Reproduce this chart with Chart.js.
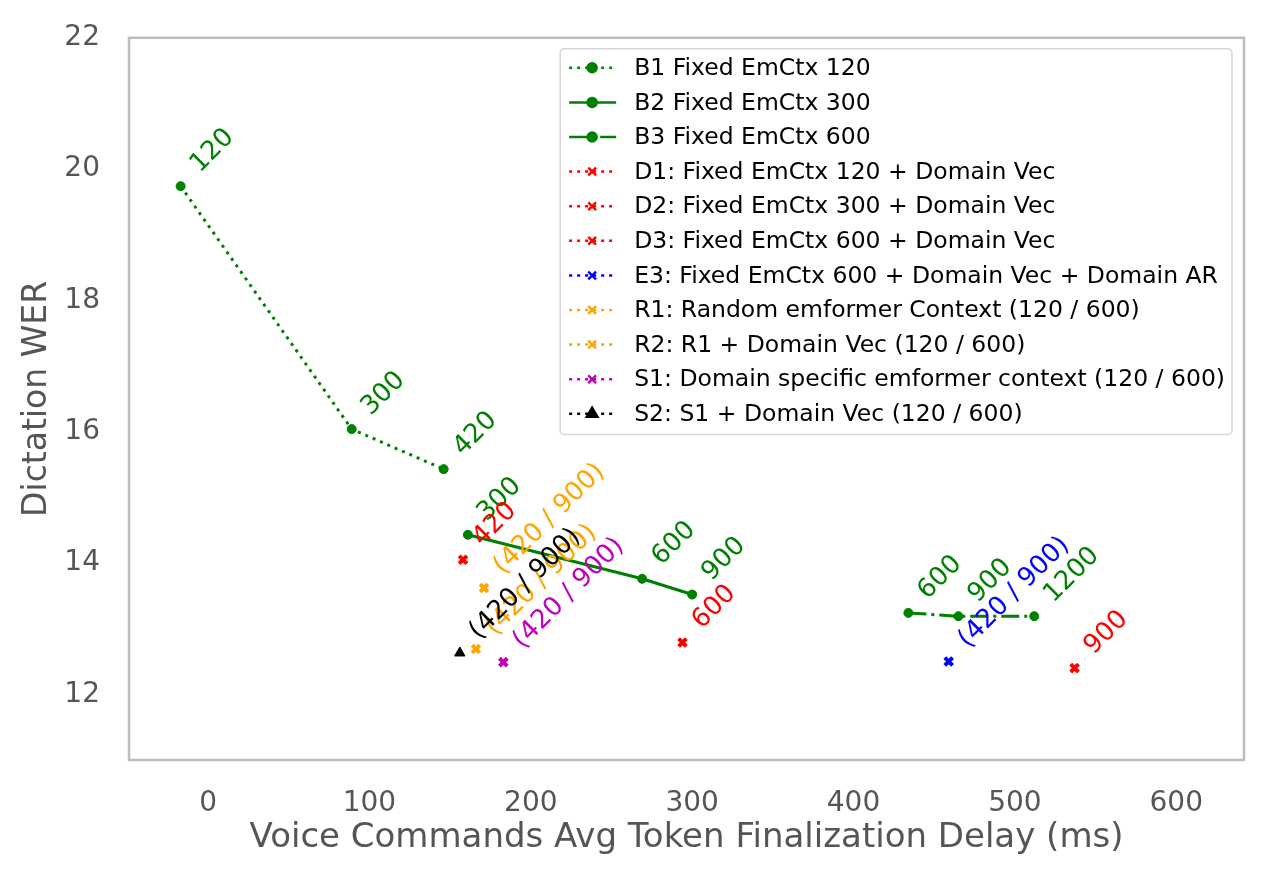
<!DOCTYPE html>
<html>
<head>
<meta charset="utf-8">
<script src="https://cdn.jsdelivr.net/npm/chart.js@4.4.1/dist/chart.umd.min.js"></script>
<style>
  html, body { margin: 0; padding: 0; background: #fff; }
</style>
</head>
<body>
<canvas id="myChart" width="1268" height="879"></canvas>
<script>
// values
var b1X = [-17, 89, 146];   var b1Y = [19.74, 16.04, 15.43];
var b2X = [161, 269, 300];  var b2Y = [14.43, 13.76, 13.52];
var b3X = [434, 465, 512];  var b3Y = [13.24, 13.19, 13.19];
var d1X = [158]; var d1Y = [14.05];
var d2X = [294]; var d2Y = [12.79];
var d3X = [537]; var d3Y = [12.40];
var e3X = [459]; var e3Y = [12.50];
var r1X = [171]; var r1Y = [13.62];
var r2X = [166]; var r2Y = [12.69];
var s1X = [183]; var s1Y = [12.49];
var s2X = [156]; var s2Y = [12.63];

var b1Labels = ['120', '300', '420'];
var b2Labels = ['300', '600', '900'];
var b3Labels = ['600', '900', '1200'];
var d1Labels = ['420'];
var d2Labels = ['600'];
var d3Labels = ['900'];
var pairLabels = ['(420 / 900)'];

var xTicks = [0, 100, 200, 300, 400, 500, 600];
var yTicks = [12, 14, 16, 18, 20, 22];

function pts(xs, ys) {
    return xs.map(function (x, i) { return {x: x, y: ys[i]}; });
}

function series(label, xs, ys, color, dash, style, notes) {
    return {
        label: label,
        data: pts(xs, ys),
        borderColor: color,
        backgroundColor: color,
        borderWidth: 3,
        borderDash: dash,
        pointStyle: style,
        pointRadius: style === 'circle' ? 4.5 : (style === 'triangle' ? 6 : 5.5),
        pointBorderWidth: style === 'crossRot' ? 4 : 1,
        pointHoverRadius: 5,
        showLine: true,
        tension: 0,
        notes: notes
    };
}

var dotted = [3, 5];
var datasets = [
    series('B1 Fixed EmCtx 120', b1X, b1Y, 'green', dotted, 'circle', b1Labels),
    series('B2 Fixed EmCtx 300', b2X, b2Y, 'green', [], 'circle', b2Labels),
    series('B3 Fixed EmCtx 600', b3X, b3Y, 'green', [18, 5, 3, 5], 'circle', b3Labels),
    series('D1: Fixed EmCtx 120 + Domain Vec', d1X, d1Y, 'red', dotted, 'crossRot', d1Labels),
    series('D2: Fixed EmCtx 300 + Domain Vec', d2X, d2Y, 'red', dotted, 'crossRot', d2Labels),
    series('D3: Fixed EmCtx 600 + Domain Vec', d3X, d3Y, 'red', dotted, 'crossRot', d3Labels),
    series('E3: Fixed EmCtx 600 + Domain Vec + Domain AR', e3X, e3Y, 'blue', dotted, 'crossRot', pairLabels),
    series('R1: Random emformer Context (120 / 600)', r1X, r1Y, 'orange', dotted, 'crossRot', pairLabels),
    series('R2: R1 + Domain Vec (120 / 600)', r2X, r2Y, 'orange', dotted, 'crossRot', pairLabels),
    series('S1: Domain specific emformer context (120 / 600)', s1X, s1Y, '#bf00bf', dotted, 'crossRot', pairLabels),
    series('S2: S1 + Domain Vec (120 / 600)', s2X, s2Y, 'black', dotted, 'triangle', pairLabels)
];

// rotated point labels, like ax.annotate(..., rotation=45)
var notesPlugin = {
    id: 'notes',
    afterDatasetsDraw: function (chart) {
        var ctx = chart.ctx;
        chart.data.datasets.forEach(function (ds, i) {
            var meta = chart.getDatasetMeta(i);
            meta.data.forEach(function (p, j) {
                ctx.save();
                ctx.translate(p.x + 19, p.y - 13);
                ctx.rotate(-Math.PI / 4);
                ctx.font = '26px "DejaVu Sans"';
                ctx.fillStyle = ds.borderColor;
                ctx.textAlign = 'left';
                ctx.textBaseline = 'alphabetic';
                ctx.fillText(ds.notes[j], 0, 0);
                ctx.restore();
            });
        });
    }
};

// frame around the plot + legend in the upper right
var framePlugin = {
    id: 'frame',
    afterDraw: function (chart) {
        var ctx = chart.ctx, a = chart.chartArea;
        ctx.save();
        ctx.strokeStyle = '#bdbdbd';
        ctx.lineWidth = 2.5;
        ctx.strokeRect(a.left, a.top, a.right - a.left, a.bottom - a.top);

        ctx.font = '23.5px "DejaVu Sans"';
        var maxW = 0;
        chart.data.datasets.forEach(function (ds) {
            maxW = Math.max(maxW, ctx.measureText(ds.label).width);
        });
        var rowH = 34.6;
        var n = chart.data.datasets.length;
        var right = a.right - 12, top = a.top + 11;
        var w = 74 + maxW + 7, h = n * rowH + 5;
        var left = right - w;
        ctx.fillStyle = 'rgba(255,255,255,0.85)';
        ctx.strokeStyle = '#d6d6d6';
        ctx.lineWidth = 1.5;
        ctx.beginPath();
        ctx.roundRect(left, top, w, h, 4);
        ctx.fill();
        ctx.stroke();

        chart.data.datasets.forEach(function (ds, i) {
            var y = top + 19 + i * rowH;
            ctx.save();
            ctx.strokeStyle = ds.borderColor;
            ctx.lineWidth = 2.5;
            ctx.setLineDash(ds.borderDash);
            ctx.beginPath();
            ctx.moveTo(left + 9, y);
            ctx.lineTo(left + 56, y);
            ctx.stroke();
            ctx.setLineDash([]);
            ctx.fillStyle = ds.borderColor;
            Chart.helpers.drawPoint(ctx, {
                pointStyle: ds.pointStyle,
                radius: ds.pointRadius,
                rotation: 0,
                borderWidth: ds.pointBorderWidth
            }, left + 32, y);
            ctx.restore();
            ctx.fillStyle = '#000';
            ctx.textAlign = 'left';
            ctx.textBaseline = 'middle';
            ctx.fillText(ds.label, left + 74, y + 1);
        });
        ctx.restore();
    }
};

var ctx = document.getElementById('myChart').getContext('2d');
var myChart = new Chart(ctx, {
    type: 'line',
    data: { datasets: datasets },
    options: {
        responsive: false,
        animation: false,
        devicePixelRatio: 1,
        layout: { padding: { top: 36, right: 24, left: 0, bottom: 0 } },
        plugins: {
            legend: { display: false },
            tooltip: { enabled: false }
        },
        scales: {
            x: {
                type: 'linear',
                min: -49,
                max: 642,
                grid: { display: false },
                border: { display: false },
                afterBuildTicks: function (axis) {
                    axis.ticks = xTicks.map(function (v) { return {value: v}; });
                },
                afterFit: function (axis) { axis.height = 119; },
                ticks: {
                    color: '#555',
                    padding: 19,
                    font: { family: 'DejaVu Sans', size: 28 }
                },
                title: {
                    display: true,
                    text: 'Voice Commands Avg Token Finalization Delay (ms)',
                    color: '#555',
                    padding: { top: 0, bottom: 20 },
                    font: { family: 'DejaVu Sans', size: 34 }
                }
            },
            y: {
                type: 'linear',
                min: 11,
                max: 22,
                grid: { display: false },
                border: { display: false },
                afterBuildTicks: function (axis) {
                    axis.ticks = yTicks.map(function (v) { return {value: v}; });
                },
                afterFit: function (axis) { axis.width = 129; },
                ticks: {
                    color: '#555',
                    padding: 21,
                    font: { family: 'DejaVu Sans', size: 28 }
                },
                title: {
                    display: true,
                    text: 'Dictation WER',
                    color: '#555',
                    padding: { top: 18, bottom: 0 },
                    font: { family: 'DejaVu Sans', size: 33 }
                }
            }
        }
    },
    plugins: [notesPlugin, framePlugin]
});
</script>
</body>
</html>
